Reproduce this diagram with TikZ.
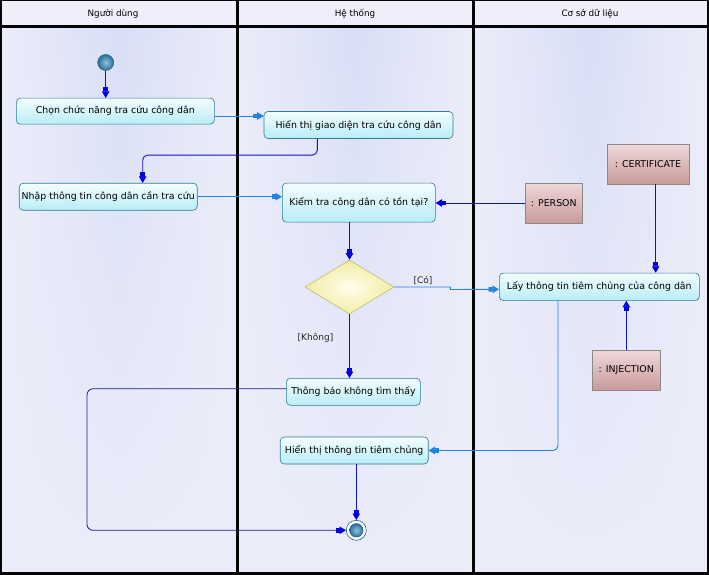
\documentclass[tikz,border=0pt]{standalone}
\usepackage{fontspec}
\setmainfont{DejaVu Sans}
\usetikzlibrary{shapes.geometric,arrows.meta,fadings}

\definecolor{frameBlack}{HTML}{050505}
\definecolor{headFill}{HTML}{EEEFFA}
\definecolor{laneEdge}{HTML}{ECEDFA}
\definecolor{laneMid}{HTML}{C8D4F2}
\definecolor{actBorder}{HTML}{2E7C8E}
\definecolor{actTop}{HTML}{F4FDFE}
\definecolor{actBottom}{HTML}{B8EDF6}
\definecolor{objBorder}{HTML}{8C8888}
\definecolor{objTop}{HTML}{F0D8D8}
\definecolor{objBottom}{HTML}{C99A9A}
\definecolor{decBorder}{HTML}{C2BA74}
\definecolor{decInner}{HTML}{FFFFEC}
\definecolor{decOuter}{HTML}{F3ECA6}
\definecolor{ballInner}{HTML}{8CC3E0}
\definecolor{ballOuter}{HTML}{2C6E9A}
\definecolor{ballEdge}{HTML}{1F5E80}
\definecolor{flowDark}{HTML}{1212C0}
\definecolor{tipDark}{HTML}{0000E6}
\definecolor{flowLight}{HTML}{2382E2}
\definecolor{flowNavy}{HTML}{1E1E8C}

\tikzfading[name=laneVertical,
  top color=transparent!55,
  middle color=transparent!100,
  bottom color=transparent!0]

\tikzset{
  action/.style={draw=actBorder, rounded corners=4pt, top color=actTop,
    bottom color=actBottom, inner sep=0pt, align=center, line width=0.6pt},
  object/.style={draw=objBorder, top color=objTop, bottom color=objBottom,
    inner sep=0pt, align=center, line width=0.6pt},
  decision/.style={diamond, draw=decBorder, inner color=decInner,
    outer color=decOuter, inner sep=0pt,
    minimum width=89pt, minimum height=54pt, line width=0.6pt},
  headtext/.style={font=\fontsize{8.8}{10}\selectfont},
  ballstate/.style={inner color=ballInner, outer color=ballOuter},
  darrow/.style={draw=flowDark, line width=0.9pt,
    -{Rectangle[length=4pt,width=4.5pt,color=tipDark]Triangle[length=6.5pt,width=7.5pt,color=tipDark]}},
  larrow/.style={draw=flowLight, line width=0.9pt,
    -{Rectangle[length=4pt,width=4.5pt,color=flowLight]Triangle[length=6.5pt,width=7.5pt,color=flowLight]}},
  narrow/.style={draw=flowNavy, line width=0.8pt,
    -{Rectangle[length=4pt,width=4.5pt,color=tipDark]Triangle[length=6.5pt,width=7.5pt,color=tipDark]}},
  guard/.style={font=\fontsize{9}{10}\selectfont, text=black!85},
}

\begin{document}
\begin{tikzpicture}[x=1pt,y=-1pt,font=\fontsize{9.4}{11}\selectfont]
\useasboundingbox (0,0) rectangle (709,575);

% header band and lane bodies
\fill[headFill] (0,0) rectangle (709,27);
\foreach \xa/\xb in {1/237,237/472,472/707}{
  \shade[left color=laneEdge, right color=laneEdge, middle color=laneMid]
    (\xa,27) rectangle (\xb,573);
  \fill[laneEdge, path fading=laneVertical] (\xa,27) rectangle (\xb,573);
}

% swimlane frame
\draw[frameBlack, line width=1pt] (0.5,0.5) -- (708.5,0.5);
\draw[frameBlack, line width=2pt] (1,0) -- (1,575);
\draw[frameBlack, line width=2pt] (707.5,0) -- (707.5,575);
\draw[frameBlack, line width=3pt] (0,573.5) -- (709,573.5);
\draw[frameBlack, line width=3pt] (0,26.5) -- (709,26.5);
\draw[frameBlack, line width=3pt] (237.5,0) -- (237.5,575);
\draw[frameBlack, line width=3pt] (473,0) -- (473,575);

\node[headtext] (h1) at (113,13.5) {Người dùng};
\node[headtext] (h2) at (355,13.5) {Hệ thống};
\node[headtext] (h3) at (590,13.5) {Cơ sở dữ liệu};

% start and final states
\node[circle, draw=ballEdge, ballstate, minimum size=16pt,
  inner sep=0pt, line width=0.5pt] (S) at (105.7,62.5) {};
\node[circle, draw=ballEdge, fill=white, minimum size=20pt, inner sep=0pt,
  line width=0.6pt] (F) at (356.3,530.3) {};
\shade[ballstate] (F.center) circle (6.8);
\draw[ballEdge, line width=0.4pt] (F.center) circle (6.8);

% activities
\node[action, minimum width=198pt, minimum height=26pt] (A1) at (115.3,111.2)
  {Chọn chức năng tra cứu công dân};
\node[action, minimum width=189pt, minimum height=27pt] (A2) at (358.5,125)
  {Hiển thị giao diện tra cứu công dân};
\node[action, minimum width=178pt, minimum height=27pt] (A3) at (108.2,196.7)
  {Nhập thông tin công dân cần tra cứu};
\node[action, minimum width=153pt, minimum height=39pt] (A4) at (358.8,202.6)
  {Kiểm tra công dân có tồn tại?};
\node[decision] (D) at (349.5,287) {};
\node[action, minimum width=200pt, minimum height=27.5pt] (A5) at (599.3,286.8)
  {Lấy thông tin tiêm chủng của công dân};
\node[action, minimum width=134pt, minimum height=27pt] (A6) at (353.4,391.8)
  {Thông báo không tìm thấy};
\node[action, minimum width=148pt, minimum height=27pt] (A7) at (354.2,450.5)
  {Hiển thị thông tin tiêm chủng};

% data objects
\node[object, minimum width=57pt, minimum height=40pt] (P) at (553.8,203)
  {: PERSON};
\node[object, minimum width=82pt, minimum height=40pt] (C) at (648,164)
  {: CERTIFICATE};
\node[object, minimum width=68pt, minimum height=40pt] (I) at (626.3,370)
  {: INJECTION};

\coordinate (loop) at (87,530.3);

% control flows
\draw[darrow] (S) -- (S |- A1.north);
\draw[larrow] ([yshift=-4.8pt]A1.east) -- ([yshift=-4.8pt]A1.east -| A2.west);
\draw[darrow, rounded corners=5pt] ([xshift=-41.2pt]A2.south)
  |- ([xshift=34.5pt,yshift=27.8pt]A3.north) -- ([xshift=34.5pt]A3.north);
\draw[larrow] (A3.east) -- (A3.east -| A4.west);
\draw[darrow] (P.west) -- (P.west -| A4.east);
\draw[darrow] (A4.south -| D.north) -- (D.north);
\draw[larrow] (D.east) -- ++(56,0) -- ++(0,2.5) -- ([yshift=-2.5pt]A5.west);
\node[guard] (yes) at (423,280) {[Có]};
\draw[darrow] ([xshift=7.7pt]C.south) -- ([xshift=7.7pt]C.south |- A5.north);
\draw[darrow] (I.north) -- (I.north |- A5.south);
\draw[darrow] (D.south) -- (D.south |- A6.north);
\node[guard] (no) at (315.5,338) {[Không]};
\draw[larrow, rounded corners=5pt] ([xshift=-41.3pt]A5.south) |- (A7.east);
\draw[narrow, rounded corners=6pt] ([yshift=3pt]A6.west) -| (loop) -- (F.west);
\draw[darrow] (A7.south -| F.north) -- (F.north);
\end{tikzpicture}
\end{document}
